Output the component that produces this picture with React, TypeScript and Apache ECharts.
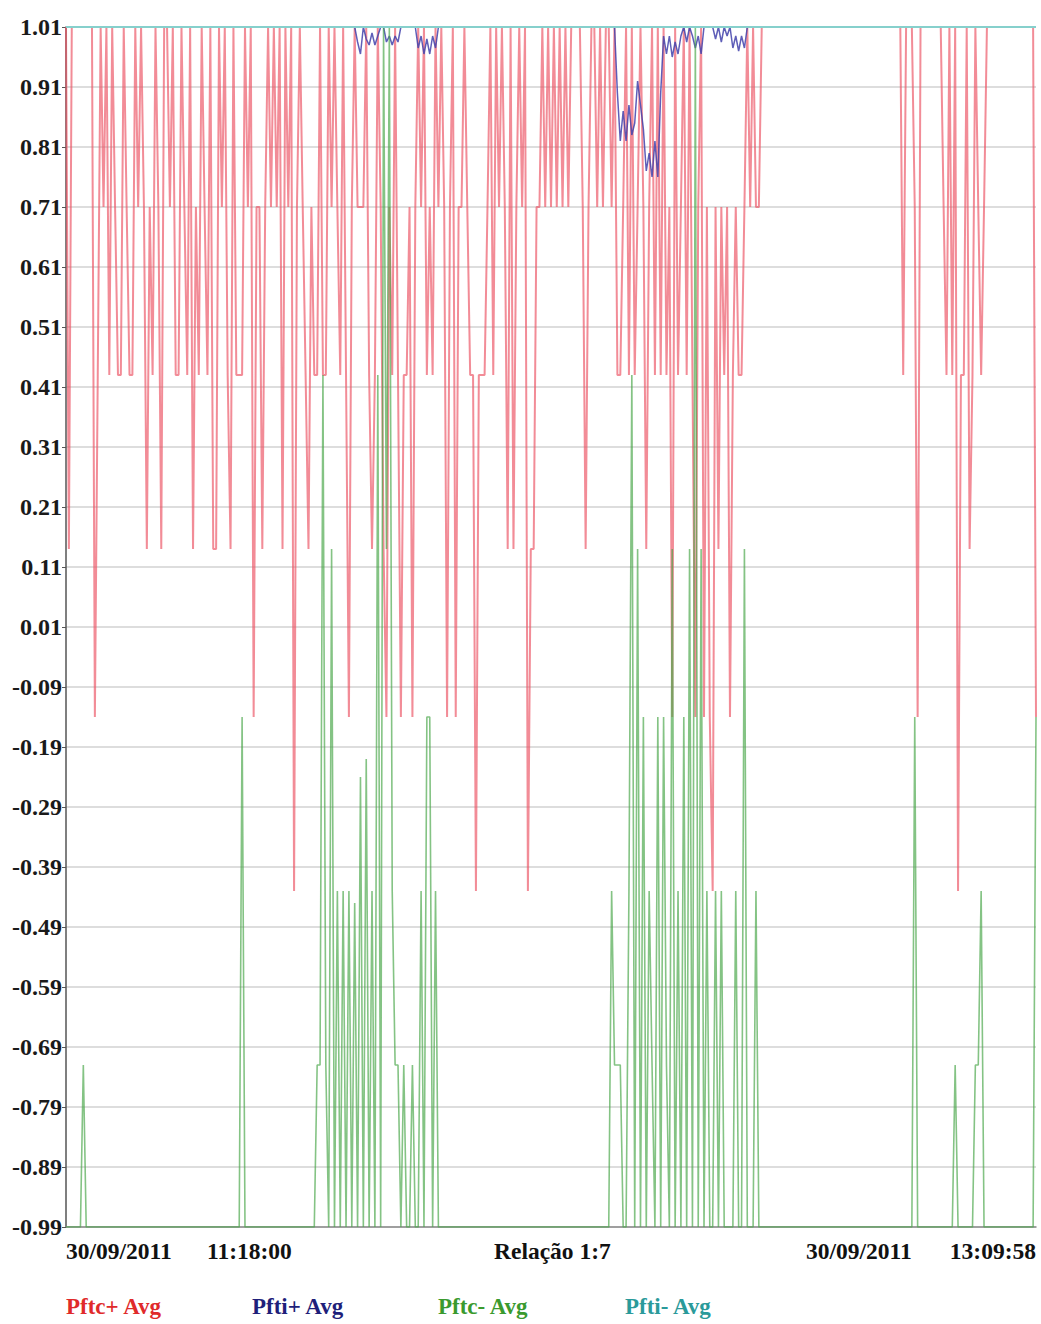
import React, { useEffect, useRef } from "react";
import * as echarts from "echarts";

// ---- time base ----
const START_TIME = [2011, 8, 30, 11, 18, 0];
const END_TIME = [2011, 8, 30, 13, 9, 58];

// ---- text ----
const DATE_LABEL = "30/09/2011";
const START_LABEL = "11:18:00";
const END_LABEL = "13:09:58";
const RATIO_LABEL = "Relação 1:7";
const SERIES_NAMES = ["Pftc+ Avg", "Pfti+ Avg", "Pftc- Avg", "Pfti- Avg"];

// ---- y axis ----
const Y_MIN = -0.99;
const Y_MAX = 1.01;
const Y_STEP = 0.1;

// ---- Pftc+ Avg (samples, equally spaced in time) ----
const PFTC_PLUS_A = [
  1.01, .14, 1.01, 1.01, 1.01, 1.01, 1.01, 1.01, 1.01, 1.01,
  -.14, .43, 1.01, .71, 1.01, .43, 1.01, .71, .43, .43,
  1.01, .71, .43, .43, 1.01, .71, 1.01, .71, .14, .71,
  .43, 1.01, .71, .14, 1.01, 1.01, .71, 1.01, .43, .43,
  1.01, .71, .43, 1.01, .14, .71, .43, 1.01, .71, .43,
  1.01, .14, .14, 1.01, .71, 1.01,
];
const PFTC_PLUS_B = [
  .43, .14, 1.01, .43, .43, .43, 1.01, .71, 1.01, -.14,
  .71, .71, .14, .71, 1.01, .71, 1.01, .71, 1.01, .14,
  1.01, .71, 1.01, -.43, .71, 1.01, .71, .43, .14, .71,
  .43, .43, 1.01, .43, .43, 1.01, .71, 1.01, .71, .43,
  1.01, .43, -.14, .71, 1.01, .71, .71, .71, 1.01, .43,
  .14, .43, 1.01, .71, .14, -.14,
];
const PFTC_PLUS_C = [
  .71, .43, 1.01, .43, -.14, .43, .43, .71, -.14, .71,
  1.01, .71, 1.01, .43, .71, .43, 1.01, .71, 1.01, .71,
  -.14, .71, 1.01, -.14, .71, .71, 1.01, .71, .43, .43,
  -.43, .43, .43, .43, .71, 1.01, .43, 1.01, .71, 1.01,
  .71, .14, 1.01, .14, .71, 1.01, .71, 1.01, -.43, .14,
  .14, .71, .71, 1.01, .71, 1.01,
];
const PFTC_PLUS_D = [
  .71, 1.01, .71, 1.01, .71, 1.01, .71, 1.01, 1.01, 1.01,
  1.01, .71, .14, .71, 1.01, 1.01, .71, 1.01, .71, 1.01,
  1.01, .71, 1.01, .43, .43, .71, 1.01, .43, 1.01, .43,
  .71, 1.01, .71, .14, .71, 1.01, .43, 1.01, .43, 1.01,
  .43, .71, -.14, 1.01, .43, .71, 1.01, .43, 1.01, .43,
  -.14, .71, 1.01, -.14, .71, -.14,
];
const PFTC_PLUS_E = [
  -.43, .71, .14, .71, .43, .71, -.14, .43, .71, .43,
  .43, .71, 1.01, .71, 1.01, .71, .71, 1.01, 1.01, 1.01,
  1.01, 1.01, 1.01, 1.01, 1.01, 1.01, 1.01, 1.01, 1.01, 1.01,
  1.01, 1.01, 1.01, 1.01, 1.01, 1.01, 1.01, 1.01, 1.01, 1.01,
  1.01, 1.01, 1.01, 1.01, 1.01, 1.01, 1.01, 1.01, 1.01, 1.01,
  1.01, 1.01, 1.01, 1.01, 1.01, 1.01,
];
const PFTC_PLUS_F = [
  1.01, 1.01, 1.01, 1.01, 1.01, 1.01, 1.01, 1.01, 1.01, 1.01,
  .43, 1.01, 1.01, 1.01, .71, -.14, 1.01, 1.01, 1.01, 1.01,
  1.01, 1.01, 1.01, 1.01, .71, .43, 1.01, .43, 1.01, -.43,
  .43, .43, 1.01, .14, .43, 1.01, .71, .43, .71, 1.01,
  1.01, 1.01, 1.01, 1.01, 1.01, 1.01, 1.01, 1.01, 1.01, 1.01,
  1.01, 1.01, 1.01, 1.01, 1.01, 1.01, -.14,
];

// ---- Pfti+ Avg ----
const PFTI_PLUS_A = [
  1.01, 1.01, 1.01, 1.01, 1.01, 1.01, 1.01, 1.01, 1.01, 1.01,
  1.01, 1.01, 1.01, 1.01, 1.01, 1.01, 1.01, 1.01, 1.01, 1.01,
  1.01, 1.01, 1.01, 1.01, 1.01, 1.01, 1.01, 1.01, 1.01, 1.01,
  1.01, 1.01, 1.01, 1.01, 1.01, 1.01, 1.01, 1.01, 1.01, 1.01,
  1.01, 1.01, 1.01, 1.01, 1.01, 1.01, 1.01, 1.01, 1.01, 1.01,
  1.01, 1.01, 1.01, 1.01, 1.01, 1.01,
];
const PFTI_PLUS_B = [
  1.01, 1.01, 1.01, 1.01, 1.01, 1.01, 1.01, 1.01, 1.01, 1.01,
  1.01, 1.01, 1.01, 1.01, 1.01, 1.01, 1.01, 1.01, 1.01, 1.01,
  1.01, 1.01, 1.01, 1.01, 1.01, 1.01, 1.01, 1.01, 1.01, 1.01,
  1.01, 1.01, 1.01, 1.01, 1.01, 1.01, 1.01, 1.01, 1.01, 1.01,
  1.01, 1.01, 1.01, 1.01, 1.01, .985, .965, 1.01, .99, .98,
  1.0, .98, .995, 1.01, 1.01, .985,
];
const PFTI_PLUS_C = [
  .995, .98, .995, .985, 1.01, 1.01, 1.01, 1.01, 1.01, 1.01,
  .975, .995, .965, .99, .965, .995, .975, 1.01, 1.01, 1.01,
  1.01, 1.01, 1.01, 1.01, 1.01, 1.01, 1.01, 1.01, 1.01, 1.01,
  1.01, 1.01, 1.01, 1.01, 1.01, 1.01, 1.01, 1.01, 1.01, 1.01,
  1.01, 1.01, 1.01, 1.01, 1.01, 1.01, 1.01, 1.01, 1.01, 1.01,
  1.01, 1.01, 1.01, 1.01, 1.01, 1.01,
];
const PFTI_PLUS_D = [
  1.01, 1.01, 1.01, 1.01, 1.01, 1.01, 1.01, 1.01, 1.01, 1.01,
  1.01, 1.01, 1.01, 1.01, 1.01, 1.01, 1.01, 1.01, 1.01, 1.01,
  1.01, 1.01, 1.01, .9, .82, .87, .82, .88, .83, .85,
  .92, .88, .84, .77, .8, .76, .82, .76, .9, .995,
  .965, .995, .96, .985, .965, .995, 1.01, .985, 1.01, .995,
  .975, .995, .965, 1.01, 1.01, 1.01,
];
const PFTI_PLUS_E = [
  1.01, .99, 1.01, .985, 1.01, .995, 1.01, .975, .995, .97,
  .995, .975, 1.01, 1.01, 1.01, 1.01, 1.01, 1.01, 1.01, 1.01,
  1.01, 1.01, 1.01, 1.01, 1.01, 1.01, 1.01, 1.01, 1.01, 1.01,
  1.01, 1.01, 1.01, 1.01, 1.01, 1.01, 1.01, 1.01, 1.01, 1.01,
  1.01, 1.01, 1.01, 1.01, 1.01, 1.01, 1.01, 1.01, 1.01, 1.01,
  1.01, 1.01, 1.01, 1.01, 1.01, 1.01,
];
const PFTI_PLUS_F = [
  1.01, 1.01, 1.01, 1.01, 1.01, 1.01, 1.01, 1.01, 1.01, 1.01,
  1.01, 1.01, 1.01, 1.01, 1.01, 1.01, 1.01, 1.01, 1.01, 1.01,
  1.01, 1.01, 1.01, 1.01, 1.01, 1.01, 1.01, 1.01, 1.01, 1.01,
  1.01, 1.01, 1.01, 1.01, 1.01, 1.01, 1.01, 1.01, 1.01, 1.01,
  1.01, 1.01, 1.01, 1.01, 1.01, 1.01, 1.01, 1.01, 1.01, 1.01,
  1.01, 1.01, 1.01, 1.01, 1.01, 1.01, 1.01,
];

// ---- Pftc- Avg ----
const PFTC_MINUS_A = [
  -.99, -.99, -.99, -.99, -.99, -.99, -.72, -.99, -.99, -.99,
  -.99, -.99, -.99, -.99, -.99, -.99, -.99, -.99, -.99, -.99,
  -.99, -.99, -.99, -.99, -.99, -.99, -.99, -.99, -.99, -.99,
  -.99, -.99, -.99, -.99, -.99, -.99, -.99, -.99, -.99, -.99,
  -.99, -.99, -.99, -.99, -.99, -.99, -.99, -.99, -.99, -.99,
  -.99, -.99, -.99, -.99, -.99, -.99,
];
const PFTC_MINUS_B = [
  -.99, -.99, -.99, -.99, -.99, -.14, -.99, -.99, -.99, -.99,
  -.99, -.99, -.99, -.99, -.99, -.99, -.99, -.99, -.99, -.99,
  -.99, -.99, -.99, -.99, -.99, -.99, -.99, -.99, -.99, -.99,
  -.99, -.72, -.72, .43, -.72, -.99, .14, -.99, -.43, -.99,
  -.43, -.99, -.43, -.99, -.45, -.99, -.24, -.99, -.21, -.99,
  -.43, -.99, .43, -.99, 1.01, .14,
];
const PFTC_MINUS_C = [
  1.01, -.43, -.72, -.72, -.99, -.72, -.99, -.99, -.72, -.99,
  -.99, -.43, -.99, -.14, -.14, -.99, -.43, -.99, -.99, -.99,
  -.99, -.99, -.99, -.99, -.99, -.99, -.99, -.99, -.99, -.99,
  -.99, -.99, -.99, -.99, -.99, -.99, -.99, -.99, -.99, -.99,
  -.99, -.99, -.99, -.99, -.99, -.99, -.99, -.99, -.99, -.99,
  -.99, -.99, -.99, -.99, -.99, -.99,
];
const PFTC_MINUS_D = [
  -.99, -.99, -.99, -.99, -.99, -.99, -.99, -.99, -.99, -.99,
  -.99, -.99, -.99, -.99, -.99, -.99, -.99, -.99, -.99, -.99,
  -.99, -.43, -.72, -.72, -.72, -.99, -.99, -.43, .43, -.99,
  .14, -.99, -.14, -.99, -.43, -.72, -.99, -.14, -.99, -.14,
  -.72, -.99, .14, -.99, -.43, -.99, -.14, -.99, .14, -.99,
  1.01, -.99, .14, -.99, -.43, -.99,
];
const PFTC_MINUS_E = [
  -.99, -.43, -.99, -.43, -.99, -.99, -.99, -.99, -.43, -.99,
  -.99, .14, -.99, -.99, -.99, -.43, -.99, -.99, -.99, -.99,
  -.99, -.99, -.99, -.99, -.99, -.99, -.99, -.99, -.99, -.99,
  -.99, -.99, -.99, -.99, -.99, -.99, -.99, -.99, -.99, -.99,
  -.99, -.99, -.99, -.99, -.99, -.99, -.99, -.99, -.99, -.99,
  -.99, -.99, -.99, -.99, -.99, -.99,
];
const PFTC_MINUS_F = [
  -.99, -.99, -.99, -.99, -.99, -.99, -.99, -.99, -.99, -.99,
  -.99, -.99, -.99, -.99, -.14, -.99, -.99, -.99, -.99, -.99,
  -.99, -.99, -.99, -.99, -.99, -.99, -.99, -.99, -.72, -.99,
  -.99, -.99, -.99, -.99, -.99, -.72, -.72, -.43, -.99, -.99,
  -.99, -.99, -.99, -.99, -.99, -.99, -.99, -.99, -.99, -.99,
  -.99, -.99, -.99, -.99, -.99, -.99, -.14,
];

// ---- Pfti- Avg (flat at the top for the whole period) ----
const PFTI_MINUS_START = 1.01;
const PFTI_MINUS_END = 1.01;

const PFTC_PLUS = [...PFTC_PLUS_A, ...PFTC_PLUS_B, ...PFTC_PLUS_C, ...PFTC_PLUS_D, ...PFTC_PLUS_E, ...PFTC_PLUS_F];
const PFTI_PLUS = [...PFTI_PLUS_A, ...PFTI_PLUS_B, ...PFTI_PLUS_C, ...PFTI_PLUS_D, ...PFTI_PLUS_E, ...PFTI_PLUS_F];
const PFTC_MINUS = [...PFTC_MINUS_A, ...PFTC_MINUS_B, ...PFTC_MINUS_C, ...PFTC_MINUS_D, ...PFTC_MINUS_E, ...PFTC_MINUS_F];

const COLORS = {
  pftcPlus: "rgba(236, 86, 102, 0.68)",
  pftiPlus: "rgba(66, 66, 172, 0.85)",
  pftcMinus: "rgba(74, 166, 74, 0.68)",
  pftiMinus: "#86d0cc",
};
const LEGEND_COLORS = ["#e02a2a", "#1f1f7a", "#3a9a2e", "#2a9a9a"];

const FONT = "'Liberation Serif', 'Times New Roman', serif";

export default function App() {
  const ref = useRef<HTMLDivElement>(null);

  useEffect(() => {
    if (!ref.current) return;
    const chart = echarts.init(ref.current, undefined, { renderer: "svg" });

    const t0 = new Date(START_TIME[0], START_TIME[1], START_TIME[2], START_TIME[3], START_TIME[4], START_TIME[5]).getTime();
    const t1 = new Date(END_TIME[0], END_TIME[1], END_TIME[2], END_TIME[3], END_TIME[4], END_TIME[5]).getTime();
    const toPairs = (vals: number[]) => {
      const step = (t1 - t0) / (vals.length - 1);
      return vals.map((v, i) => [t0 + i * step, v]);
    };

    const lineSeries = (name: string, data: any[], color: string, width: number) => ({
      name,
      type: "line",
      data,
      showSymbol: false,
      symbol: "none",
      clip: true,
      lineStyle: { color, width },
      itemStyle: { color },
      emphasis: { disabled: true },
      silent: true,
    });

    const bottomText = { fontFamily: FONT, fontWeight: "bold", fontSize: 23.5 };
    const legendText = { fontFamily: FONT, fontWeight: "bold", fontSize: 23 };

    chart.setOption({
      animation: false,
      backgroundColor: "#ffffff",
      grid: { left: 66, right: 5, top: 27, bottom: 97, containLabel: false },
      xAxis: {
        type: "time",
        min: t0,
        max: t1,
        axisLabel: { show: false },
        axisTick: { show: false },
        splitLine: { show: false },
        axisLine: { show: true, onZero: false, lineStyle: { color: "#8a8a8a", width: 1.5 } },
      },
      yAxis: {
        type: "value",
        min: Y_MIN,
        max: Y_MAX,
        interval: Y_STEP,
        axisLine: { show: true, lineStyle: { color: "#555", width: 1.5 } },
        axisTick: { show: true, length: 4, lineStyle: { color: "#555" } },
        axisLabel: {
          formatter: (v: number) => v.toFixed(2),
          color: "#1a1a1a",
          fontFamily: FONT,
          fontWeight: "bold",
          fontSize: 24,
          margin: 4,
        },
        splitLine: { show: true, lineStyle: { color: "#d2d2d2", width: 1.5 } },
      },
      series: [
        lineSeries(SERIES_NAMES[0], toPairs(PFTC_PLUS), COLORS.pftcPlus, 2),
        lineSeries(SERIES_NAMES[1], toPairs(PFTI_PLUS), COLORS.pftiPlus, 1.5),
        lineSeries(SERIES_NAMES[2], toPairs(PFTC_MINUS), COLORS.pftcMinus, 1.6),
        lineSeries(SERIES_NAMES[3], [[t0, PFTI_MINUS_START], [t1, PFTI_MINUS_END]], COLORS.pftiMinus, 2),
      ],
      graphic: [
        { type: "text", left: 66, top: 1239, style: { ...bottomText, text: DATE_LABEL, fill: "#111" } },
        { type: "text", left: 207, top: 1239, style: { ...bottomText, text: START_LABEL, fill: "#111" } },
        { type: "text", left: 494, top: 1239, style: { ...bottomText, text: RATIO_LABEL, fill: "#111" } },
        { type: "text", left: 806, top: 1239, style: { ...bottomText, text: DATE_LABEL, fill: "#111" } },
        { type: "text", right: 5, top: 1239, style: { ...bottomText, text: END_LABEL, fill: "#111" } },
        { type: "text", left: 66, top: 1295, style: { ...legendText, text: SERIES_NAMES[0], fill: LEGEND_COLORS[0] } },
        { type: "text", left: 252, top: 1295, style: { ...legendText, text: SERIES_NAMES[1], fill: LEGEND_COLORS[1] } },
        { type: "text", left: 438, top: 1295, style: { ...legendText, text: SERIES_NAMES[2], fill: LEGEND_COLORS[2] } },
        { type: "text", left: 625, top: 1295, style: { ...legendText, text: SERIES_NAMES[3], fill: LEGEND_COLORS[3] } },
      ],
    });

    return () => chart.dispose();
  }, []);

  return (
    <div
      ref={ref}
      style={{ position: "fixed", left: 0, top: 0, width: 1041, height: 1324, background: "#fff" }}
    />
  );
}
